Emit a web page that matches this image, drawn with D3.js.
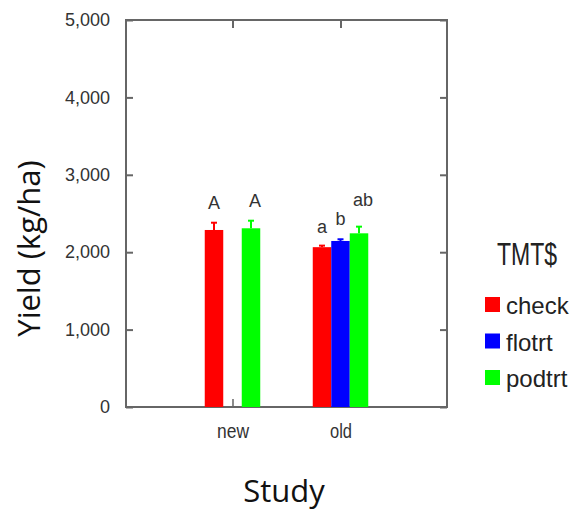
<!DOCTYPE html>
<html>
<head>
<meta charset="utf-8">
<script src="https://cdn.jsdelivr.net/npm/d3@7"></script>
<style>
  html, body { margin: 0; padding: 0; background: #fff; }
  svg { display: block; }
</style>
</head>
<body>
<div id="chart"></div>
<script>
// ---------- data ----------
const studies = ["new", "old"];
const treatments = ["check", "flotrt", "podtrt"];
const yTicks = [0, 1000, 2000, 3000, 4000, 5000];
// mean yield (kg/ha), null = no bar
const newMeans = [2287, null, 2309];
const oldMeans = [2065, 2145, 2244];
// standard errors
const newSE = [94, null, 98];
const oldSE = [20, 22, 86];
// mean-separation letters and their anchor heights (kg/ha)
const newLetters = ["A", null, "A"];
const oldLetters = ["a", "b", "ab"];
const newLetterY = [2554, null, 2588];
const oldLetterY = [2244, 2351, 2597];
const colors = ["#ff0000", "#0000ff", "#00ff00"];

const rows = [];
[[newMeans, newSE, newLetters, newLetterY], [oldMeans, oldSE, oldLetters, oldLetterY]].forEach((arr, si) => {
  treatments.forEach((t, ti) => {
    if (arr[0][ti] == null) return;
    rows.push({study: studies[si], trt: t, mean: arr[0][ti], se: arr[1][ti], letter: arr[2][ti], ly: arr[3][ti]});
  });
});

// ---------- layout ----------
const W = 572, H = 512;
const L = 126, R = 447, T = 20, B = 407;
const svg = d3.select("#chart").append("svg").attr("width", W).attr("height", H);

const x0 = d3.scalePoint().domain(studies).range([L, R]).padding(0.986);
const x1 = d3.scaleBand().domain(treatments).range([-27.75, 27.75]).padding(0);
const y = d3.scaleLinear().domain([0, 5000]).range([B, T]);
const color = d3.scaleOrdinal().domain(treatments).range(colors);

const frameCol = "#666";
const txtCol = "#333";

// frame
svg.append("rect").attr("x", L).attr("y", T).attr("width", R - L).attr("height", B - T)
  .attr("fill", "none").attr("stroke", frameCol).attr("stroke-width", 2);

// left axis (inward ticks)
const yAxis = d3.axisLeft(y).tickValues(yTicks).tickSize(-7).tickPadding(16)
  .tickFormat(d3.format(","));
const gy = svg.append("g").attr("transform", `translate(${L},0)`).call(yAxis);
gy.select(".domain").remove();
gy.selectAll(".tick line").attr("stroke", frameCol).attr("stroke-width", 2);
gy.selectAll(".tick text").attr("fill", txtCol)
  .style("font-family", "'Liberation Sans', Arial, sans-serif").style("font-size", "18px");

// right axis ticks (inward)
const gyr = svg.append("g").attr("transform", `translate(${R},0)`)
  .call(d3.axisRight(y).tickValues(yTicks).tickSize(-7).tickFormat(""));
gyr.select(".domain").remove();
gyr.selectAll(".tick line").attr("stroke", frameCol).attr("stroke-width", 2);

// top ticks (inward)
const gxt = svg.append("g").attr("transform", `translate(0,${T})`)
  .call(d3.axisTop(x0).tickSize(-8).tickFormat(""));
gxt.select(".domain").remove();
gxt.selectAll(".tick line").attr("stroke", frameCol).attr("stroke-width", 2);

// bottom axis (inward ticks)
const gx = svg.append("g").attr("transform", `translate(0,${B})`)
  .call(d3.axisBottom(x0).tickSize(-8).tickPadding(17));
gx.select(".domain").remove();
gx.selectAll(".tick line").attr("stroke", frameCol).attr("stroke-width", 1.5);
gx.selectAll(".tick text").attr("fill", txtCol)
  .style("font-family", "'Liberation Sans', Arial, sans-serif").style("font-size", "20px")
  .attr("textLength", d => d === "new" ? 32 : 22).attr("lengthAdjust", "spacingAndGlyphs");

// bars
const bx = d => x0(d.study) + x1(d.trt);
svg.append("g").selectAll("rect").data(rows).join("rect")
  .attr("x", bx).attr("width", x1.bandwidth())
  .attr("y", d => y(d.mean)).attr("height", d => y(0) - y(d.mean))
  .attr("fill", d => color(d.trt));

// error bars
const eb = svg.append("g").selectAll("g").data(rows).join("g");
eb.append("line")
  .attr("x1", d => bx(d) + x1.bandwidth() / 2).attr("x2", d => bx(d) + x1.bandwidth() / 2)
  .attr("y1", d => y(d.mean)).attr("y2", d => y(d.mean + d.se))
  .attr("stroke", d => color(d.trt)).attr("stroke-width", 2);
eb.append("line")
  .attr("x1", d => bx(d) + x1.bandwidth() / 2 - 3).attr("x2", d => bx(d) + x1.bandwidth() / 2 + 3)
  .attr("y1", d => y(d.mean + d.se)).attr("y2", d => y(d.mean + d.se))
  .attr("stroke", d => color(d.trt)).attr("stroke-width", 2);

// letters
svg.append("g").selectAll("text").data(rows.filter(d => d.letter)).join("text")
  .attr("x", d => bx(d) + x1.bandwidth() / 2 + (d.trt === "podtrt" ? 4 : 0))
  .attr("y", d => y(d.ly))
  .attr("text-anchor", "middle").attr("fill", txtCol)
  .style("font-family", "'Liberation Sans', Arial, sans-serif").style("font-size", "18px")
  .text(d => d.letter);

// axis titles
svg.append("text")
  .attr("transform", `translate(40,${(T + B) / 2 + 35}) rotate(-90)`)
  .attr("text-anchor", "middle").attr("fill", "#111")
  .style("font-family", "'Open Sans', sans-serif").style("font-size", "31px")
  .text("Yield (kg/ha)");

svg.append("text")
  .attr("x", 284).attr("y", 502).attr("text-anchor", "middle").attr("fill", "#111")
  .style("font-family", "'Open Sans', sans-serif").style("font-size", "31px")
  .text("Study");

// legend
const lg = svg.append("g");
lg.append("text").attr("transform", "translate(497,265) scale(0.96,1.3)").attr("fill", "#222")
  .style("font-family", "'Liberation Sans', Arial, sans-serif").style("font-size", "24px")
  .text("TMT$");
const li = lg.selectAll("g.item").data(treatments).join("g").attr("class", "item")
  .attr("transform", (d, i) => `translate(485,${297 + i * 36.5})`);
li.append("rect").attr("width", 15).attr("height", 15).attr("fill", d => color(d));
li.append("text").attr("x", 21).attr("y", 17).attr("fill", "#222")
  .style("font-family", "'Liberation Sans', Arial, sans-serif").style("font-size", "24px")
  .text(d => d);
</script>
</body>
</html>
